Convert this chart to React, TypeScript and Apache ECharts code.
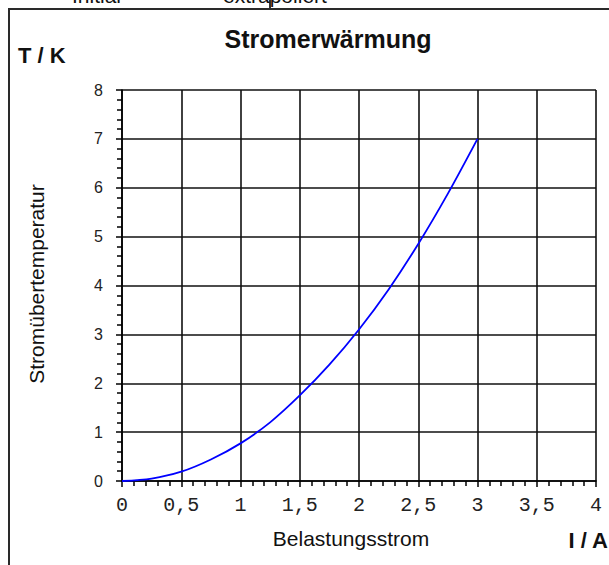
import React, { useEffect, useRef } from "react";
import * as echarts from "echarts";

// Data
const currentValues = [0, 0.25, 0.5, 0.75, 1, 1.25, 1.5, 1.75, 2, 2.25, 2.5, 2.75, 3];
const temperatureValues = [0, 0.05, 0.19, 0.44, 0.77, 1.2, 1.75, 2.38, 3.1, 3.92, 4.85, 5.88, 7.0];
const xTickValues = [0, 0.5, 1, 1.5, 2, 2.5, 3, 3.5, 4];
const yTickValues = [0, 1, 2, 3, 4, 5, 6, 7, 8];

const titleText = "Stromerwärmung";
const yAxisName = "Stromübertemperatur";
const xAxisName = "Belastungsstrom";
const yUnit = "T / K";
const xUnit = "I / A";
const topLabels = ["Initial", "extrapoliert"];

export default function App() {
  const ref = useRef<HTMLDivElement>(null);
  useEffect(() => {
    if (!ref.current) return;
    const chart = echarts.init(ref.current, null, { renderer: "svg" });
    const seriesData = currentValues.map((x, i) => [x, temperatureValues[i]]);
    const sans = "Liberation Sans, Arial, sans-serif";
    chart.setOption({
      animation: false,
      backgroundColor: "transparent",
      grid: { left: 122, top: 90, right: 13, bottom: 84, containLabel: false },
      xAxis: {
        type: "value",
        min: xTickValues[0],
        max: xTickValues[xTickValues.length - 1],
        interval: 0.5,
        axisLine: { show: true, lineStyle: { color: "#000", width: 1.6 } },
        axisTick: { show: true, length: 6, inside: false, lineStyle: { color: "#000", width: 1.5 } },
        minorTick: { show: true, splitNumber: 5, length: 5, lineStyle: { color: "#000", width: 1.5 } },
        splitLine: { show: true, lineStyle: { color: "#111", width: 1.6 } },
        axisLabel: {
          margin: 14,
          fontFamily: "Liberation Mono, Courier New, monospace",
          fontSize: 20,
          color: "#222",
          formatter: (v: number) => String(v).replace(".", ","),
        },
      },
      yAxis: {
        type: "value",
        min: yTickValues[0],
        max: yTickValues[yTickValues.length - 1],
        interval: 1,
        axisLine: { show: true, lineStyle: { color: "#000", width: 1.6 } },
        axisTick: { show: true, length: 6, inside: false, lineStyle: { color: "#000", width: 1.5 } },
        minorTick: { show: true, splitNumber: 5, length: 5, lineStyle: { color: "#000", width: 1.5 } },
        splitLine: { show: true, lineStyle: { color: "#111", width: 1.6 } },
        axisLabel: {
          margin: 19,
          fontFamily: sans,
          fontSize: 16,
          color: "#222",
        },
      },
      series: [
        {
          type: "line",
          data: seriesData,
          smooth: 0.3,
          showSymbol: false,
          lineStyle: { color: "#0000ff", width: 1.8 },
        },
      ],
      graphic: [
        {
          type: "rect",
          shape: { x: 9, y: 9, width: 640, height: 600 },
          style: { stroke: "#2a2a2a", lineWidth: 2, fill: "transparent" },
          silent: true,
          z: 100,
        },
        {
          type: "text",
          x: 72,
          y: 6,
          style: { text: topLabels[0], font: `21px ${sans}`, fill: "#111", textAlign: "left", textVerticalAlign: "bottom" },
        },
        {
          type: "text",
          x: 223,
          y: 6,
          style: { text: topLabels[1], font: `21px ${sans}`, fill: "#111", textAlign: "left", textVerticalAlign: "bottom" },
        },
        {
          type: "text",
          x: 328,
          y: 39,
          style: { text: titleText, font: `bold 25px ${sans}`, fill: "#111", textAlign: "center", textVerticalAlign: "middle" },
        },
        {
          type: "text",
          x: 18,
          y: 55,
          style: { text: yUnit, font: `bold 22px ${sans}`, fill: "#111", textAlign: "left", textVerticalAlign: "middle" },
        },
        {
          type: "text",
          x: 608,
          y: 540,
          style: { text: xUnit, font: `bold 22px ${sans}`, fill: "#111", textAlign: "right", textVerticalAlign: "middle" },
        },
        {
          type: "text",
          x: 351,
          y: 538,
          style: { text: xAxisName, font: `21px ${sans}`, fill: "#111", textAlign: "center", textVerticalAlign: "middle" },
        },
        {
          type: "text",
          x: 36,
          y: 284,
          rotation: Math.PI / 2,
          style: { text: yAxisName, font: `21px ${sans}`, fill: "#111", textAlign: "center", textVerticalAlign: "middle" },
        },
      ],
    });
    return () => chart.dispose();
  }, []);
  return (
    <div style={{ position: "fixed", left: 0, top: 0, width: 609, height: 565, background: "#fff", overflow: "hidden" }}>
      <div style={{ position: "absolute", left: 269, top: 0, width: 2, height: 8, background: "#333" }} />
      <div ref={ref} style={{ position: "absolute", left: 0, top: 0, width: 609, height: 565 }} />
    </div>
  );
}
